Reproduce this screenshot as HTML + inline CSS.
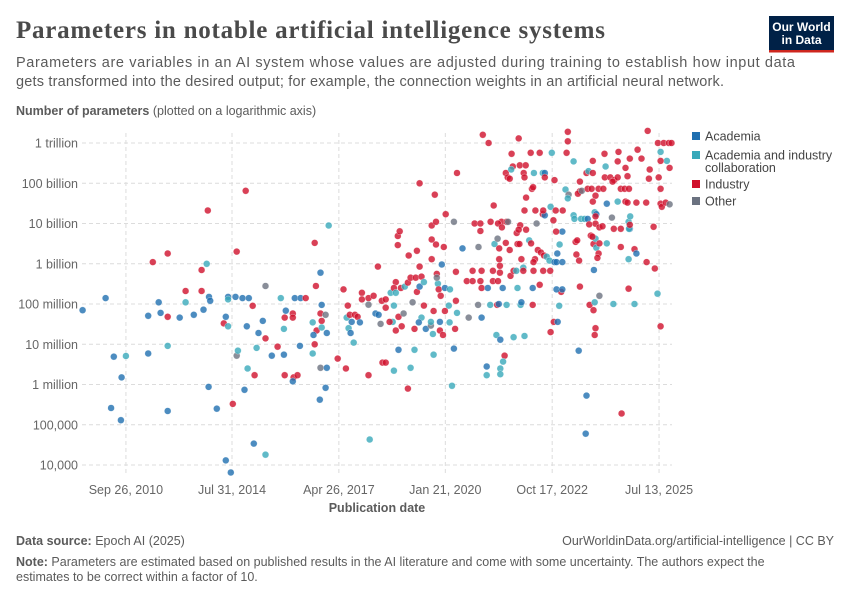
<!DOCTYPE html>
<html><head><meta charset="utf-8"><style>
html,body{margin:0;padding:0;background:#fff;}
svg{display:block;font-family:"Liberation Sans",sans-serif;}
</style></head><body>
<svg id="chart" width="850" height="600" viewBox="0 0 850 600">
<text x="16" y="38" font-family="Liberation Serif,serif" font-weight="bold" font-size="25" fill="#4a4a4a" textLength="589">Parameters in notable artificial intelligence systems</text>
<text x="16" y="67" font-size="14.5" fill="#5b5b5b" textLength="779">Parameters are variables in an AI system whose values are adjusted during training to establish how input data</text>
<text x="16" y="86" font-size="14.5" fill="#5b5b5b" textLength="708">gets transformed into the desired output; for example, the connection weights in an artificial neural network.</text>
<g>
<rect x="769" y="16" width="65" height="36" fill="#002147"/>
<rect x="769" y="50" width="65" height="2.5" fill="#ce261e"/>
<text x="801.5" y="31" text-anchor="middle" font-size="12" font-weight="bold" fill="#fff">Our World</text>
<text x="801.5" y="44" text-anchor="middle" font-size="12" font-weight="bold" fill="#fff">in Data</text>
</g>
<text x="16" y="115" font-size="12.5" fill="#5b5b5b"><tspan font-weight="bold">Number of parameters</tspan> (plotted on a logarithmic axis)</text>
<g id="grid"></g>
<g id="points"></g>
<g id="legend"></g>
<text x="377" y="512" text-anchor="middle" font-size="12.5" font-weight="bold" fill="#5b5b5b">Publication date</text>
<text x="16" y="545" font-size="12.5" fill="#5b5b5b"><tspan font-weight="bold">Data source:</tspan> Epoch AI (2025)</text>
<text x="834" y="545" text-anchor="end" font-size="12.5" fill="#5b5b5b">OurWorldinData.org/artificial-intelligence | CC BY</text>
<text x="16" y="566" font-size="12.5" fill="#5b5b5b"><tspan font-weight="bold">Note:</tspan> Parameters are estimated based on published results in the AI literature and come with some uncertainty. The authors expect the</text>
<text x="16" y="581" font-size="12.5" fill="#5b5b5b">estimates to be correct within a factor of 10.</text>
</svg>
<script>
const yTickValues=[1e12,1e11,1e10,1e9,1e8,1e7,1e6,1e5,1e4];
const yTickLabels=["1 trillion","100 billion","10 billion","1 billion","100 million","10 million","1 million","100,000","10,000"];
const xTickValues=[2011.86,2014.58,2017.32,2020.05,2022.79,2025.53];
const xTickLabels=["Sep 26, 2010","Jul 31, 2014","Apr 26, 2017","Jan 21, 2020","Oct 17, 2022","Jul 13, 2025"];
const categoryNames=["Academia","Academia and industry collaboration","Industry","Other"];
const categoryCodes=["A","C","I","O"];
const categoryColors=["#1f6fb0","#38a9ba","#d0102c","#6b7280"];
const years=[2010.75,2011.34,2011.55,2011.86,2011.75,2011.48,2011.73,2012.43,2012.43,2012.55,2012.70,2012.75,2012.93,2012.93,2012.93,2012.93,2013.24,2013.39,2013.39,2013.6,2013.8,2013.8,2013.93,2013.96,2013.85,2013.99,2014.02,2013.98,2014.19,2014.37,2014.42,2014.48,2014.48,2014.48,2014.42,2014.55,2014.6,2014.7,2014.93,2014.67,2014.85,2015.01,2015.11,2014.7,2014.73,2014.96,2014.98,2014.9,2015.16,2015.14,2015.44,2015.44,2015.37,2015.26,2015.44,2015.21,
2015.75,2015.6,2015.91,2015.83,2015.96,2015.93,2015.91,2015.93,2016.14,2016.14,2016.16,2016.14,2016.26,2016.19,2016.34,2016.47,2016.32,2016.65,2016.65,2016.7,2016.73,2016.85,2017.06,2016.88,2016.85,2016.98,2016.88,2016.75,2016.67,2017.01,2016.88,2016.7,2016.85,2017.01,2016.98,2016.83,2017.29,2017.5,2017.44,2017.55,2017.52,2017.6,2017.65,2017.57,2017.62,2017.73,2017.8,2017.86,2017.7,2017.91,2017.91,2018.08,2018.21,2018.08,2018.32,2018.26,2018.34,2018.08,2018.11,2018.42,2018.52,2018.52,2018.39,2018.44,2018.52,2018.65,2018.73,2018.7,2018.62,2018.78,2018.73,2018.78,2018.78,2018.73,2018.85,2018.85,2018.93,2018.98,2018.83,2018.83,2018.88,2018.91,2019.01,2019.09,2019.11,2019.09,2019.16,2019.16,2019.21,2019.26,2019.26,2019.32,2019.32,2019.29,2019.39,2019.39,2019.44,2019.39,2019.5,2019.5,2019.44,2019.37,2019.55,2019.68,2019.73,2019.68,2019.75,2019.75,2019.7,2019.7,2019.7,2019.81,2019.78,2019.81,2019.83,2019.86,2019.83,2019.88,2019.93,2019.96,2019.91,2019.91,2019.99,2020.01,2020.06,2020.27,2020.35,2020.04,2020.14,2020.04,2020.17,2020.16,2020.27,2020.22,2020.32,2020.32,2020.35,2020.3,
2021.01,2021.16,2021.93,2023.19,2023.19,2025.24,2021.75,2022.24,2022.47,2022.78,
2023.16,2023.34,2024.13,2024.49,2024.98,2025.5,2025.65,2025.78,2025.85,2025.57,
2025.73,2025.57,2025.8,2021.6,2021.65,2021.7,2021.78,2021.74,2021.96,2022.11,
2022.06,2022.08,2022.32,2022.55,2022.6,2022.6,2022.85,2022.12,2022.27,2022.3,
2021.29,2023.13,2023.21,2023.19,2023.5,2023.5,2023.45,2023.55,2023.67,2023.72,
2023.83,2023.83,2023.7,2023.8,2023.98,2024.1,2023.9,2023.83,2024.19,2024.47,
2024.67,2024.72,2024.95,2025.2,2024.14,2024.28,2024.38,2024.47,2024.34,2024.47,
2024.67,2024.72,2024.78,2024.55,2024.65,2024.76,2025.08,2025.29,2025.27,2025.52,
2025.57,2025.57,2025.6,2025.7,2025.8,2024.16,2022.75,2022.55,2022.6,2022.39,
2022.82,2022.88,2023.06,2022.08,2022.36,2022.56,2021.97,2022.12,2021.88,2021.93,
2021.49,2021.4,2021.5,2021.62,2021.66,2021.21,2020.8,2020.95,2020.95,2020.49,
2020.9,2021.31,2021.39,2021.6,2021.43,2021.43,2021.45,2021.45,2021.7,2021.9,
2021.95,2022.0,2022.05,2022.2,2022.25,2022.35,2022.31,2022.42,2022.5,2022.58,
2022.65,2022.72,2022.85,2022.92,2022.98,2023.05,2022.89,2023.39,2023.43,2023.41,
2023.48,2023.34,2023.36,2023.53,2023.62,2023.7,2023.88,2023.92,2023.9,2023.9,
2024.0,2024.08,2023.74,2023.78,2023.85,2023.9,2023.82,2023.92,2023.98,2023.95,
2024.0,2024.19,2024.32,2024.37,2024.55,2024.75,2024.79,2024.78,2024.76,2024.78,
2025.39,2024.55,2024.9,2024.95,2024.75,2025.21,2025.42,2024.75,2025.49,2024.9,
2024.36,2024.0,2025.57,2024.57,2023.65,2023.67,2023.47,2023.9,2023.88,2023.75,
2023.85,2023.88,2023.86,2022.75,2022.83,2022.93,2022.97,2023.02,2023.5,2022.9,
2023.05,2022.9,2023.05,2021.36,2021.46,2021.8,2022.08,2021.57,2021.53,2021.46,
2021.46,2021.11,2021.11,2020.98,2020.65,2020.89,2021.2,2021.38,2021.42,2021.62,
2021.98,2022.0,2022.29,2020.98,2021.14,2021.52,2021.9,2022.29,2022.47,2020.75,
2020.98,2021.27,2021.72,2021.8,2021.87,2022.05,2022.31,2022.56,2022.74,2020.6,
2020.75,2020.95,2021.27,2021.4,2021.72];
const params=[7e7,1.4e8,4.9e6,5.1e6,1.5e6,2.6e5,1.3e5,5.1e7,5.9e6,1.1e9,1.1e8,6e7,4.8e7,1.8e9,9.1e6,2.2e5,4.6e7,2.1e8,1.1e8,5.4e7,2.1e8,7e8,1e9,2.1e10,7.2e7,1.5e8,1.2e8,8.7e5,2.5e5,3.3e7,4.8e7,1.5e8,1.3e8,2.8e7,1.3e4,6.5e3,3.3e5,2e9,6.5e10,1.5e8,1.4e8,1.4e8,9e7,5.2e6,6.9e6,2.8e7,2.5e6,7.4e5,1.7e6,3.4e4,1.8e4,2.8e8,3.8e7,1.9e7,1.4e7,8.1e6,
8.7e6,5.2e6,5.5e6,1.4e8,6.8e7,4.6e7,2.4e7,1.7e6,5.8e7,4.6e7,1.5e6,1.2e6,1.7e6,1.4e8,1.4e8,1.4e8,9.1e6,3.5e7,5.9e6,3.3e9,2.8e8,6e8,8.9e9,9.5e7,5.8e7,5.4e7,3.8e7,2.2e7,1.7e7,1.9e7,2.6e7,1e7,2.6e6,2.6e6,8.3e5,4.2e5,4.4e6,2.5e6,2.3e8,9.1e7,4.6e7,5.4e7,3.6e7,2.5e7,1.9e7,5.4e7,4.8e7,3.5e7,1.1e7,1.9e8,1.3e8,1.4e8,1.6e8,9.6e7,8.5e8,5.8e7,5.4e7,1.7e6,4.3e4,1.2e8,1.3e8,8.1e7,3.2e7,3.5e6,3.5e6,1.9e8,9.1e7,3.6e7,3.6e7,3.5e8,2.5e8,1.9e8,2.2e7,2.2e6,7.3e6,4.8e7,2.8e7,5.8e7,2.9e9,4.9e9,6.4e9,2.5e8,2.7e8,3.4e8,1.6e9,7.9e5,2.6e6,4.5e8,1.1e8,7.3e6,2.4e7,2.1e9,2e8,4.5e8,1e11,8.5e8,4.8e8,2.7e8,3.5e8,9.1e7,4.6e7,3.5e7,2.4e7,2.9e7,1.8e7,3.6e7,5.5e6,6.7e7,1.3e9,4e9,8.9e9,1.1e10,5.2e10,3e9,5.6e8,3.2e8,4.5e8,2.3e8,1.6e8,9.6e8,3.6e7,2.2e7,1.7e7,2.6e9,1.7e10,1.1e10,1.8e11,2.5e8,9.1e7,6.7e7,2.3e8,3.5e7,7.8e6,9.3e5,6.3e8,1.2e8,6e7,2.4e7,
1.6e12,1e12,1.3e12,1.9e12,1.1e12,2e12,5.4e11,5.7e11,5.7e11,5.7e11,
5.7e11,3.5e11,5.4e11,6e11,6.8e11,1e12,1e12,1e12,1e12,6e11,
3.6e11,3.6e11,2.4e11,1.8e11,1.4e11,1.3e11,2.6e11,2.2e11,2.8e11,2.8e11,
1.8e11,1.4e11,1.8e11,1.8e11,1.8e11,1.4e11,1.2e11,4.4e10,7.3e10,8e10,
2.8e10,7e10,5.2e10,4.2e10,1.1e11,6.3e10,5.5e10,6.5e10,1.8e11,2e11,
1.8e11,3.6e11,7.3e10,7.3e10,7.3e10,7.3e10,4.9e10,3.5e10,3.1e10,3.5e10,
3.5e10,3.3e10,3.3e10,3.3e10,1.4e11,1.4e11,1.2e11,1.4e11,1.1e11,3.5e11,
2.4e11,1.5e11,4.1e11,7.3e10,7.3e10,7.3e10,4.1e11,2.2e11,1.3e11,1.4e11,
7.3e10,3.1e10,2.6e10,3.3e10,3e10,2.6e11,2.6e10,1.7e10,1.6e10,1e10,
1.2e10,2.1e10,2.1e10,2.1e10,2.1e10,2.1e10,9e9,7e9,5.8e9,7e9,
1.1e10,1e10,8e9,1.1e10,1.1e10,1.1e10,1e10,1e10,6.5e9,2.4e9,
2.6e9,3.1e9,4.2e9,3.3e9,2.4e9,1.3e9,8.9e8,6e8,2.2e9,3.1e9,
3.1e9,1.3e9,8e8,3.8e9,3.2e9,1.3e9,1.1e9,2.2e9,1.9e9,1.6e9,
1.5e9,1.2e9,1.1e9,1.8e9,3e9,6.3e9,6.3e9,3.5e9,3.8e9,1.7e9,
1.2e9,1.6e10,1.3e10,1.3e10,1.3e10,1.3e10,1.9e10,1.7e10,1.5e10,9.9e9,
8e9,8.5e9,9.5e9,5e9,3.1e9,4.2e9,4.7e9,2.5e9,1.8e9,1.4e9,
3.2e9,3.2e9,1.4e10,7.4e9,7.4e9,1.1e10,1.5e10,7.4e9,7.4e9,9.3e9,
8.3e9,2.6e9,2.3e9,1.8e9,1.3e9,1.1e9,7.6e8,2.4e8,1.8e8,1e8,
1e8,1.6e8,2.8e7,1.9e5,6e4,5.3e5,6.9e6,2.5e7,1.7e7,9.5e7,
7e7,1.1e8,7e8,2e7,3.6e7,3.6e7,9e7,2e8,2.7e8,2.3e8,
2.3e8,1.1e9,1.1e9,1.7e7,1.3e7,1.5e7,1.6e7,5.2e6,3.7e6,2.5e6,
1.8e6,2.8e6,1.7e6,4.6e7,4.6e7,9.5e7,9.5e7,9.5e7,1e8,9.5e7,
9.5e7,1.1e8,9.5e7,2.5e8,2.5e8,2.5e8,2.5e8,2.5e8,3e8,6.7e8,
6.7e8,6.7e8,5e8,6.7e8,6.7e8,6.7e8,6.7e8,6.7e8,6.7e8,3.7e8,
3.7e8,3.7e8,3.7e8,3.7e8,2.8e8];
const cats=["A","A","A","C","A","A","A","A","A","I","A","A","I","I","C","A","A","I","C","A","I","I","C","I","A","A","A","A","A","I","A","A","C","C","A","A","I","I","I","A","A","A","I","O","C","A","C","A","I","A","C","O","A","A","I","C",
"I","A","A","C","A","I","C","I","I","I","I","A","I","A","A","I","A","C","C","I","I","A","C","A","I","O","I","I","A","A","C","I","O","A","A","A","I","I","I","I","C","I","A","C","A","I","I","A","C","I","I","I","I","O","I","A","A","I","C","I","I","I","O","I","I","C","C","C","I","I","I","C","I","C","A","I","I","O","I","I","I","I","C","I","I","I","C","I","O","C","I","I","I","I","I","I","I","A","C","I","C","A","A","O","C","C","C","I","I","I","I","I","I","I","I","C","O","I","I","A","A","I","I","I","I","O","I","A","C","I","C","C","A","C","I","I","C",
"I","I","I","I","I","I","I","I","I","I",
"C","I","C","I","I","I","I","I","I","I",
"C","C","I","I","I","I","I","I","C","I",
"I","I","I","C","C","A","I","I","I","I",
"I","I","C","O","C","I","I","I","O","I",
"C","I","I","I","I","I","I","I","I","A",
"C","I","I","I","I","I","I","I","I","I",
"I","I","I","I","I","I","I","I","I","I",
"I","I","I","I","I","O","C","C","I","A",
"O","I","I","I","I","I","I","I","I","I",
"I","I","I","I","I","O","I","I","I","I",
"A","O","C","O","I","I","I","I","I","I",
"I","I","I","C","C","I","I","I","I","I",
"I","C","C","A","A","C","A","I","I","I",
"I","I","C","C","C","C","A","C","A","I",
"I","I","I","I","I","I","C","I","C","I",
"I","I","C","O","I","I","C","C","A","C",
"I","I","I","I","A","C","I","I","I","C",
"C","C","O","I","I","A","A","A","I","I",
"I","I","C","A","I","I","A","C","I","I",
"A","A","A","A","C","A","C","C","I","C",
"C","C","A","C","A","O","O","C","I","A",
"C","C","A","I","I","A","A","C","A","I",
"I","I","I","I","I","C","I","I","I","I",
"I","I","I","I","I"];
</script>
<script>
const NS="http://www.w3.org/2000/svg";
const X0=82,X1=672,Ytop=143,Ybot=465;
function xScale(yr){return 232+(yr-2014.58)*39.0;}
function yScale(v){return Ytop+(12-Math.log10(v))*(Ybot-Ytop)/8;}
const grid=document.getElementById('grid');
function mk(tag,attrs,parent){const e=document.createElementNS(NS,tag);for(const k in attrs)e.setAttribute(k,attrs[k]);parent.appendChild(e);return e;}
yTickValues.forEach((v,i)=>{
  const y=yScale(v);
  const l=mk('line',{x1:X0,x2:X1,y1:y,y2:y,stroke:'#dcdcdc','stroke-dasharray':'4,3'},grid);
  
  
  const t=mk('text',{x:78,y:y+4.5,'text-anchor':'end','font-size':'12.5',fill:'#666'},grid);
  t.textContent=yTickLabels[i];
  
  
});
xTickValues.forEach((v,i)=>{
  const x=xScale(v);
  const l=mk('line',{x1:x,x2:x,y1:Ytop-10,y2:Ybot+10,stroke:'#dcdcdc','stroke-dasharray':'4,3'},grid);
  
  
  const t=mk('text',{x:x,y:494,'text-anchor':'middle','font-size':'12.5',fill:'#666'},grid);
  t.textContent=xTickLabels[i];
  
  
});
const pts=document.getElementById('points');
const n=Math.min(years.length,params.length,cats.length);
for(let i=0;i<n;i++){
  const ci=Math.max(0,categoryCodes.indexOf(cats[i]));
  const c=mk('circle',{cx:xScale(years[i]).toFixed(1),cy:yScale(params[i]).toFixed(1),r:3.4,fill:categoryColors[ci],'fill-opacity':0.8,stroke:'#fff','stroke-width':0.3},pts);
  
  
}
const lg=document.getElementById('legend');
const ly=[137,156,185,202];
categoryNames.forEach((nm,i)=>{
  const g=mk('g',{},lg);
  
  
  mk('rect',{x:692,y:ly[i]-5,width:8,height:8,fill:categoryColors[i]},g);
  if(i===1){
    const t1=mk('text',{x:705,y:ly[i]+3.5,'font-size':'12.5',fill:'#444'},g);t1.textContent='Academia and industry';
    const t2=mk('text',{x:705,y:ly[i]+16,'font-size':'12.5',fill:'#444'},g);t2.textContent='collaboration';
  } else {
    const t=mk('text',{x:705,y:ly[i]+3.5,'font-size':'12.5',fill:'#444'},g);t.textContent=nm;
  }
});
</script>
</body></html>
